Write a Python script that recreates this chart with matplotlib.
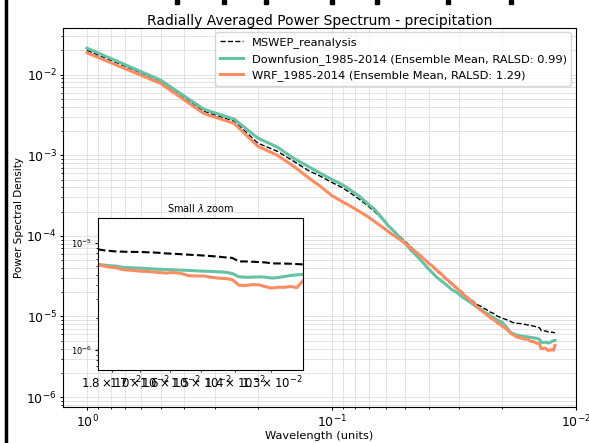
import numpy as np
import matplotlib
matplotlib.use("Agg")
import matplotlib.pyplot as plt
from matplotlib.patches import Rectangle
from matplotlib.lines import Line2D

# wavenumber index -> wavelength = 1/k
k = np.arange(1, 83)
wavelength = 1.0 / k

mswep = [
    0.0200, 0.0083, 0.00352, 0.00264, 0.00141, 0.00112, 0.000842, 0.000652, 0.000549, 0.000462,
    0.000400, 0.000337, 0.000284, 0.000239, 0.000201, 0.000165, 0.000135, 0.000114, 9.86e-5, 8.55e-5,
    7.41e-5, 6.42e-5, 5.73e-5, 5.11e-5, 4.55e-5, 4.06e-5, 3.62e-5, 3.33e-5, 2.97e-5, 2.72e-5,
    2.50e-5, 2.29e-5, 2.16e-5, 2.05e-5, 1.88e-5, 1.72e-5, 1.63e-5, 1.54e-5, 1.45e-5, 1.37e-5,
    1.33e-5, 1.26e-5, 1.22e-5, 1.15e-5, 1.12e-5, 1.09e-5, 1.03e-5, 1.00e-5, 9.72e-6, 9.50e-6,
    9.30e-6, 9.10e-6, 8.90e-6, 8.66e-6, 8.41e-6, 8.29e-6, 8.23e-6, 8.20e-6, 8.18e-6, 8.12e-6,
    8.06e-6, 7.94e-6, 7.88e-6, 7.80e-6, 7.72e-6, 7.66e-6, 7.58e-6, 7.50e-6, 7.41e-6, 7.29e-6,
    7.21e-6, 6.68e-6, 6.68e-6, 6.64e-6, 6.59e-6, 6.54e-6, 6.40e-6, 6.40e-6, 6.38e-6, 6.36e-6,
    6.31e-6, 6.27e-6,
]

downfusion = [
    0.0213, 0.00855, 0.00373, 0.00280, 0.00163, 0.00126, 0.000918, 0.000730, 0.000597, 0.000503,
    0.000436, 0.000367, 0.000310, 0.000253, 0.000213, 0.000170, 0.000135, 0.000114, 9.58e-5, 8.07e-5,
    6.80e-5, 5.89e-5, 5.11e-5, 4.43e-5, 3.84e-5, 3.42e-5, 3.05e-5, 2.80e-5, 2.57e-5, 2.36e-5,
    2.16e-5, 2.05e-5, 1.93e-5, 1.77e-5, 1.67e-5, 1.58e-5, 1.49e-5, 1.41e-5, 1.33e-5, 1.26e-5,
    1.22e-5, 1.15e-5, 1.09e-5, 1.06e-5, 1.00e-5, 9.72e-6, 9.18e-6, 8.92e-6, 8.67e-6, 8.42e-6,
    7.80e-6, 7.30e-6, 6.80e-6, 6.27e-6, 6.13e-6, 6.04e-6, 5.87e-6, 5.83e-6, 5.77e-6, 5.71e-6,
    5.65e-6, 5.62e-6, 5.58e-6, 5.54e-6, 5.51e-6, 5.46e-6, 5.42e-6, 5.39e-6, 5.35e-6, 5.31e-6,
    5.16e-6, 4.80e-6, 4.76e-6, 4.76e-6, 4.80e-6, 4.76e-6, 4.67e-6, 4.73e-6, 4.83e-6, 4.94e-6,
    5.01e-6, 5.05e-6,
]

wrf = [
    0.01866, 0.00778, 0.00330, 0.00248, 0.00129, 0.00100, 0.000730, 0.000533, 0.000412, 0.000318,
    0.000268, 0.000232, 0.000201, 0.000175, 0.000151, 0.000131, 0.000114, 0.000101, 9.05e-5, 8.07e-5,
    7.20e-5, 6.42e-5, 5.73e-5, 5.11e-5, 4.55e-5, 4.18e-5, 3.72e-5, 3.42e-5, 3.05e-5, 2.80e-5,
    2.57e-5, 2.36e-5, 2.16e-5, 1.99e-5, 1.82e-5, 1.72e-5, 1.58e-5, 1.49e-5, 1.37e-5, 1.26e-5,
    1.19e-5, 1.12e-5, 1.06e-5, 1.00e-5, 9.45e-6, 9.18e-6, 8.67e-6, 8.18e-6, 7.96e-6, 7.52e-6,
    7.30e-6, 6.90e-6, 6.60e-6, 6.27e-6, 5.96e-6, 5.83e-6, 5.58e-6, 5.51e-6, 5.41e-6, 5.37e-6,
    5.29e-6, 5.20e-6, 5.27e-6, 5.16e-6, 4.92e-6, 4.89e-6, 4.89e-6, 4.76e-6, 4.67e-6, 4.63e-6,
    4.53e-6, 4.01e-6, 3.98e-6, 4.06e-6, 4.04e-6, 3.88e-6, 3.77e-6, 3.84e-6, 3.83e-6, 3.90e-6,
    3.81e-6, 4.37e-6,
]

labels = [
    "MSWEP_reanalysis",
    "Downfusion_1985-2014 (Ensemble Mean, RALSD: 0.99)",
    "WRF_1985-2014 (Ensemble Mean, RALSD: 1.29)",
]
green = "#66c2a5"
orange = "#fc8d62"

fig = plt.figure(figsize=(5.89, 4.43), dpi=100)
ax = fig.add_axes([0.107, 0.081, 0.871, 0.856])

ax.loglog(wavelength, mswep, "k--", lw=1, label=labels[0])
ax.loglog(wavelength, downfusion, color=green, lw=2.2, label=labels[1])
ax.loglog(wavelength, wrf, color=orange, lw=2.2, label=labels[2])
ax.set_xlim(1.254, 0.01)
ax.set_ylim(7.5e-7, 0.038)
ax.grid(True, which="both", color="#dddddd", lw=0.6)
ax.set_title("Radially Averaged Power Spectrum - precipitation", fontsize=10, pad=2)
ax.set_xlabel("Wavelength (units)", fontsize=8.2, labelpad=1)
ax.set_ylabel("Power Spectral Density", fontsize=7.5, labelpad=2)
ax.tick_params(which="major", labelsize=9, length=2.5, pad=2)
ax.tick_params(which="minor", length=1.5)
ax.legend(loc="upper right", fontsize=8.2, borderaxespad=0.4)

# inset for small wavelengths (k >= 54)
k0 = 53
ins = fig.add_axes([0.166, 0.165, 0.348, 0.343])
ins.loglog(wavelength[k0:], mswep[k0:], "k--", lw=1.5)
ins.loglog(wavelength[k0:], downfusion[k0:], color=green, lw=2.2)
ins.loglog(wavelength[k0:], wrf[k0:], color=orange, lw=2.2)
ins.set_xlim(wavelength[k0], wavelength[-1])
ins.set_ylim(6.5e-7, 1.7e-5)
ins.set_title("Small $\\lambda$ zoom", fontsize=7, pad=4)
ins.tick_params(which="major", labelsize=6, length=2.5, pad=2)
ins.tick_params(which="minor", labelsize=8.5, length=1.5, pad=2)

# frame remnants from the original figure
fig.add_artist(Line2D([0.011, 0.011], [0, 1], color="black", lw=2.5,
                      transform=fig.transFigure))
for xm in [175, 222, 264, 330, 375, 446, 509]:
    fig.add_artist(Rectangle((xm / 589, 1 - 4 / 443), 4 / 589, 4 / 443,
                             color="black", transform=fig.transFigure))

fig.savefig("out.png", dpi=100)
